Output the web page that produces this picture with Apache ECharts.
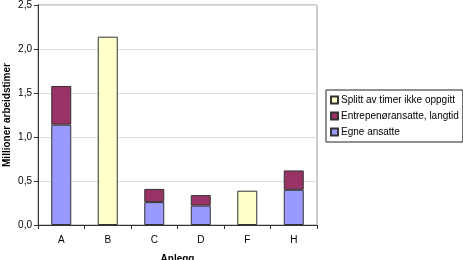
<!DOCTYPE html>
<html>
<head>
<meta charset="utf-8">
<script src="https://cdn.jsdelivr.net/npm/echarts@6/dist/echarts.min.js"></script>
<style>
  html, body { margin: 0; padding: 0; background: #fff; }
  #chart { width: 463px; height: 260px; }
</style>
</head>
<body>
<div id="chart"></div>
<script>
var categories = ["A", "B", "C", "D", "F", "H"];
var egneAnsatte = [1.14, null, 0.26, 0.22, null, 0.40];
var entreprenor = [0.44, null, 0.15, 0.12, null, 0.22];
var splittIkkeOppgitt = [null, 2.14, null, null, 0.39, null];

var font = "Liberation Sans";
var barBorder = { borderColor: "#333", borderWidth: 1 };

var myChart = echarts.init(document.getElementById("chart"));
var option = {
  animation: false,
  textStyle: { fontFamily: font },
  grid: {
    left: 38, right: 146, top: 5, bottom: 35,
    outerBoundsMode: "none",
    containLabel: false,
    show: true, borderColor: "#999", borderWidth: 1
  },
  legend: {
    orient: "vertical",
    left: 326,
    top: 90,
    width: 134,
    padding: [5, 4, 5, 4],
    borderColor: "#222",
    borderWidth: 1,
    itemGap: 6,
    itemWidth: 7,
    itemHeight: 7,
    icon: "rect",
    data: ["Splitt av timer ikke oppgitt", "Entrepenøransatte, langtid", "Egne ansatte"],
    textStyle: { fontSize: 10, color: "#000", fontFamily: font, padding: [0, 0, 0, -2] }
  },
  xAxis: {
    type: "category",
    data: categories,
    name: "Anlegg",
    nameLocation: "middle",
    nameGap: 29,
    nameMoveOverlap: false,
    nameTextStyle: { fontWeight: "bold", fontSize: 10, color: "#000" },
    axisLine: { lineStyle: { color: "#333" } },
    axisTick: { show: true, alignWithLabel: false, length: 4, lineStyle: { color: "#333" } },
    axisLabel: { color: "#000", fontSize: 10, margin: 10 }
  },
  yAxis: {
    type: "value",
    min: 0,
    max: 2.5,
    interval: 0.5,
    name: "Millioner arbeidstimer",
    nameLocation: "middle",
    nameGap: 26,
    nameMoveOverlap: false,
    nameTextStyle: { fontWeight: "bold", fontSize: 10, color: "#000" },
    axisLine: { show: true, lineStyle: { color: "#333" } },
    axisTick: { show: true, length: 4, lineStyle: { color: "#333" } },
    axisLabel: {
      color: "#000",
      fontSize: 10,
      margin: 6,
      formatter: function (v) { return v.toFixed(1).replace(".", ","); }
    },
    splitLine: { lineStyle: { color: "#ddd" } }
  },
  series: [
    {
      name: "Egne ansatte",
      type: "bar",
      stack: "total",
      barWidth: 20,
      data: egneAnsatte,
      itemStyle: Object.assign({ color: "#9999FF" }, barBorder)
    },
    {
      name: "Entrepenøransatte, langtid",
      type: "bar",
      stack: "total",
      barWidth: 20,
      data: entreprenor,
      itemStyle: Object.assign({ color: "#993366" }, barBorder)
    },
    {
      name: "Splitt av timer ikke oppgitt",
      type: "bar",
      stack: "total",
      barWidth: 20,
      data: splittIkkeOppgitt,
      itemStyle: Object.assign({ color: "#FFFFCC" }, barBorder)
    }
  ]
};
myChart.setOption(option);
</script>
</body>
</html>
